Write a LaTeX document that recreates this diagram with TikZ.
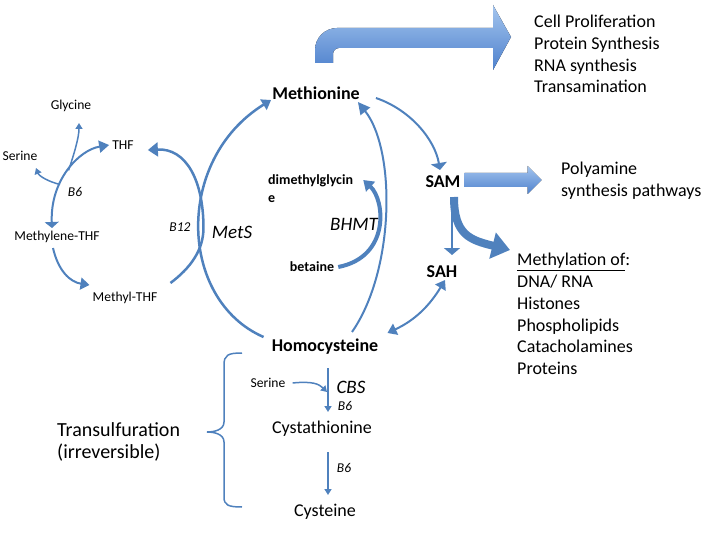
\documentclass[tikz,border=0pt]{standalone}
\usepackage{fontspec}
\setmainfont{Carlito}
\usetikzlibrary{arrows.meta,positioning}
\definecolor{pathblue}{RGB}{79,129,189}
\definecolor{lightfill}{RGB}{163,196,238}
\definecolor{darkfill}{RGB}{79,130,205}
\tikzstyle{metab} = [font=\fontsize{18}{21}\selectfont\bfseries, inner sep=0pt]
\tikzstyle{minor} = [font=\fontsize{13.6}{15}\selectfont, inner sep=0pt]
\tikzstyle{minorbold} = [font=\fontsize{14}{18}\selectfont\bfseries, inner sep=0pt]
\tikzstyle{enzyme} = [font=\fontsize{19}{21}\selectfont\itshape, inner sep=0pt]
\tikzstyle{cofactor} = [font=\fontsize{13.5}{15}\selectfont\itshape, inner sep=0pt]
\tikzstyle{product} = [font=\fontsize{18}{21.7}\selectfont, align=left, inner sep=0pt]
\tikzstyle{flow} = [draw=pathblue, line width=2pt, -{Triangle[length=9pt,width=12pt]}]
\tikzstyle{flatflow} = [draw=pathblue, line width=2pt, -{Triangle[length=7pt,width=16pt]}]
\tikzstyle{branch} = [draw=pathblue, line width=1.5pt, -{Triangle[length=6pt,width=7pt]}]
\tikzstyle{bigarrow} = [top color=lightfill, bottom color=darkfill]

\begin{document}
\begin{tikzpicture}[x=1pt,y=-1pt]
    \useasboundingbox (0,0) rectangle (720,540);

    % metabolites of the methionine cycle
    \node [metab] (meth) at (316,93) {Methionine};
    \node [metab] (sam) at (443,182) {SAM};
    \node [metab] (sah) at (442,272) {SAH};
    \node [metab] (hcy) at (325,347) {Homocysteine};
    \node [minorbold, anchor=west, align=left] (dmg) at (268,189) {dimethylglycin\\e};
    \node [minorbold] (betaine) at (312,267) {betaine};
    \node [enzyme] (bhmt) at (354,224) {BHMT};
    \node [enzyme] (mets) at (232,232) {MetS};
    \node [cofactor] (b12) at (180,227) {B12};

    % folate cycle
    \node [minor] (thf) at (123,145) {THF};
    \node [minor] (glycine) at (71,106) {Glycine};
    \node [minor] (serineA) at (20,156) {Serine};
    \node [cofactor] (b6A) at (75,192) {B6};
    \node [minor] (mlthf) at (57,237) {Methylene-THF};
    \node [minor] (mthf) at (125,298) {Methyl-THF};

    % transsulfuration
    \node [minor] (serineB) at (268,383) {Serine};
    \node [enzyme] (cbs) at (351,387) {CBS};
    \node [cofactor] (b6B) at (345,406) {B6};
    \node [product] (cysta) at (322,429) {Cystathionine};
    \node [cofactor] (b6C) at (344,468) {B6};
    \node [product] (cys) at (325,512) {Cysteine};
    \node [product, font=\fontsize{20}{21.5}\selectfont, anchor=west] (transsulf) at (57,442) {Transulfuration\\(irreversible)};

    % fates
    \node [product, anchor=west] (fates) at (534,54) {Cell Proliferation\\Protein Synthesis\\RNA synthesis\\Transamination};
    \node [product, anchor=west] (polyamine) at (561,181) {Polyamine\\synthesis pathways};
    \node [product, anchor=west] (methylation) at (517,314) {\underline{Methylation of}:\\DNA/ RNA\\Histones\\Phospholipids\\Catacholamines\\Proteins};

    % block arrows
    \fill [bigarrow] ([shift={(-1,-30)}]meth.center) [rounded corners=22pt] -- ++(0,-35) -- ++(85,0) [sharp corners] -- ++(93,0) -- ++(0,-23) -- ++(18,32) -- ++(-18,33) -- ++(0,-22) -- ++(-93,0) [rounded corners=6pt] -- ++(-67,0) -- ++(0,8) [sharp corners] -- ++(0,7) -- cycle;
    \fill [bigarrow] ([shift={(4,-9)}]sam.east) -- ++(63,0) -- ++(0,-7) -- ++(14,14) -- ++(-14,14) -- ++(0,-7) -- ++(-63,0) -- cycle;
    \draw [draw=pathblue, line width=8pt, -{Triangle[length=18pt,width=26pt]}] ([shift={(11,15)}]sam.center) .. controls +(0,38) and +(-40,-10) .. ([shift={(-7,-64)}]methylation.west);

    % methionine cycle
    \draw [flatflow] ([shift={(16,5)}]meth.east) .. controls +(35,12) and +(-5,-30) .. ([shift={(-3,-12)}]sam.center);
    \draw [flatflow] ([shift={(9,15)}]sam.center) -- ([shift={(10,-17)}]sah.center);
    \draw [flow, {Triangle[length=9pt,width=12pt]}-{Triangle[length=9pt,width=12pt]}] ([shift={(9,-14)}]hcy.east) .. controls +(28,-13) and +(-15,25) .. ([shift={(3,8)}]sah.center);
    \draw [flow, -{Triangle[length=12pt,width=12pt]}] ([shift={(27,-15)}]hcy.center) .. controls +(43,-62) and +(38,48) .. ([shift={(-2,9)}]meth.east);
    \draw [draw=pathblue, line width=4pt, -{Triangle[length=10pt,width=13pt]}] ([shift={(4,0)}]betaine.east) .. controls +(52,-10) and +(22,20) .. ([shift={(10,-9)}]dmg.east);
    \draw [flow, line width=2.5pt] ([shift={(-8,-10)}]hcy.west) .. controls +(-85,-37) and +(-97,60) .. ([shift={(-1,7)}]meth.west);
    \draw [flow, line width=2.5pt, -{Triangle[length=10pt,width=14pt]}] ([shift={(13,-15)}]mthf.east) .. controls +(20,-15) and +(0,22) .. ++(33,-55) .. controls +(0,-48) and +(38,-2) .. ([shift={(14,5)}]thf.east);

    % folate cycle
    \draw [flow, {Triangle[length=6pt,width=14pt]}-{Triangle[length=10pt,width=12pt]}] ([shift={(-5,-9)}]mlthf.center) .. controls +(-2,-48) and +(-30,5) .. ([shift={(-3,0)}]thf.west)
        coordinate[pos=0.35] (splitS) coordinate[pos=0.5] (splitG);
    \draw [branch] (splitG) .. controls +(5,-15) and +(0,15) .. ([shift={(8,17)}]glycine.center);
    \draw [branch] (splitS) .. controls +(-12,-3) and +(3,8) .. ([shift={(16,12)}]serineA.center);
    \draw [flow] ([shift={(-4,11)}]mlthf.center) .. controls +(5,22) and +(-20,-3) .. ([shift={(-3,-13)}]mthf.west);

    % transsulfuration
    \draw [branch] ([shift={(3,21)}]hcy.center) -- ([shift={(6,-17)}]cysta.center);
    \draw [branch] ([shift={(7,0)}]serineB.east) .. controls +(20,-2) and +(-8,-8) .. ([shift={(5,-37)}]cysta.center);
    \draw [branch] ([shift={(6,23)}]cysta.center) -- ([shift={(3,-17)}]cys.center);
    \draw [draw=pathblue, line width=1.5pt] (242,353) .. controls (228,353) and (224,355) .. (224,365) -- (224,422) .. controls (224,430) and (214,432) .. (207,432) .. controls (214,432) and (224,434) .. (224,442) -- (224,497) .. controls (224,505) and (228,507) .. (242,507);
\end{tikzpicture}
\end{document}
